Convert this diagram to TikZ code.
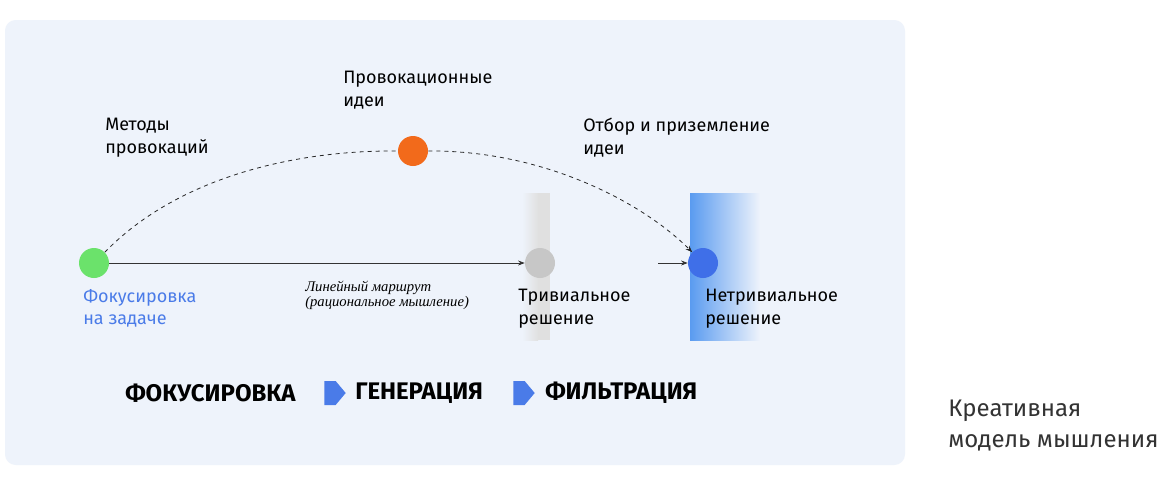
\documentclass[tikz,border=0pt]{standalone}
\usepackage{fontspec}
\setmainfont{Fira Sans}
\newfontfamily\serifit{Liberation Serif}
\usetikzlibrary{arrows.meta,shapes.geometric,shapes.arrows}
\definecolor{panel}{HTML}{EEF3FB}
\definecolor{fblue}{HTML}{4A7BE8}
\definecolor{dotblue}{HTML}{3F6FE8}
\definecolor{band}{HTML}{5A9BF0}
\definecolor{dgreen}{HTML}{6BE26B}
\definecolor{dorange}{HTML}{F26A1B}
\tikzset{
 dot/.style={circle,minimum size=22.5pt,inner sep=0pt},
 lbl/.style={align=left,anchor=north west,inner sep=0pt,font=\fontsize{13.5}{17}\selectfont},
 stage/.style={anchor=west,inner sep=0pt,font=\fontsize{18}{20}\selectfont\bfseries},
 chev/.style={fill=fblue,draw=none,single arrow,single arrow head extend=0pt,single arrow tip angle=100,minimum height=16pt,minimum width=18pt,inner sep=0pt},
}
\begin{document}
\begin{tikzpicture}[x=0.75pt,y=-0.75pt]
\useasboundingbox (0,0) rectangle (1170,486);
\fill[white] (0,0) rectangle (1170,486);
\fill[panel,rounded corners=8pt] (5,20) rectangle (905,465);
\shade[left color=panel,right color=black!12] (522,193) rectangle (538,340);
\fill[black!12] (538,193) rectangle (550,340);
\shade[left color=band,right color=panel] (690,193) rectangle (760,340);
\node[dot,fill=dgreen] (g) at (94,263) {};
\node[dot,fill=black!22] (t) at (540,263) {};
\node[dot,fill=dorange] (o) at (413,151) {};
\node[dot,fill=dotblue] (b) at (703,263) {};
\coordinate (s) at (658,263);
\draw[-{Stealth[length=5pt]},semithick,black!80] (g) -- (t);
\draw[-{Stealth[length=5pt]},semithick,black!80] (s) -- (b);
\draw[dashed,semithick,black!85] (g.north east) .. controls (180,175) and (300,150) .. (o.west);
\draw[dashed,semithick,black!85,-{Stealth[length=5pt]}] (o.east) .. controls (540,150) and (640,200) .. (b.north west);
\node[lbl] (l1) at (105,118) {Методы\\провокаций};
\node[lbl] (l2) at (343,71) {Провокационные\\идеи};
\node[lbl] (l3) at (583,118) {Отбор и приземление\\идеи};
\node[lbl,text=fblue] (l4) at (83,289) {Фокусировка\\на задаче};
\node[lbl] (l5) at (518,289) {Тривиальное\\решение};
\node[lbl] (l6) at (705,289) {Нетривиальное\\решение};
\node[lbl,font=\serifit\itshape\fontsize{11}{11}\selectfont] (l7) at (305,281) {Линейный маршрут\\(рациональное мышление)};
\node[stage] (s1) at (125,393) {ФОКУСИРОВКА};
\node[chev] (c1) at (330,393) {};
\node[stage] (s2) at (355,393) {ГЕНЕРАЦИЯ};
\node[chev] (c2) at (519,393) {};
\node[stage] (s3) at (545,393) {ФИЛЬТРАЦИЯ};
\node[lbl,font=\fontsize{18}{23}\selectfont,text=black!80] (r) at (948,400) {Креативная\\модель мышления};
\end{tikzpicture}
\end{document}
